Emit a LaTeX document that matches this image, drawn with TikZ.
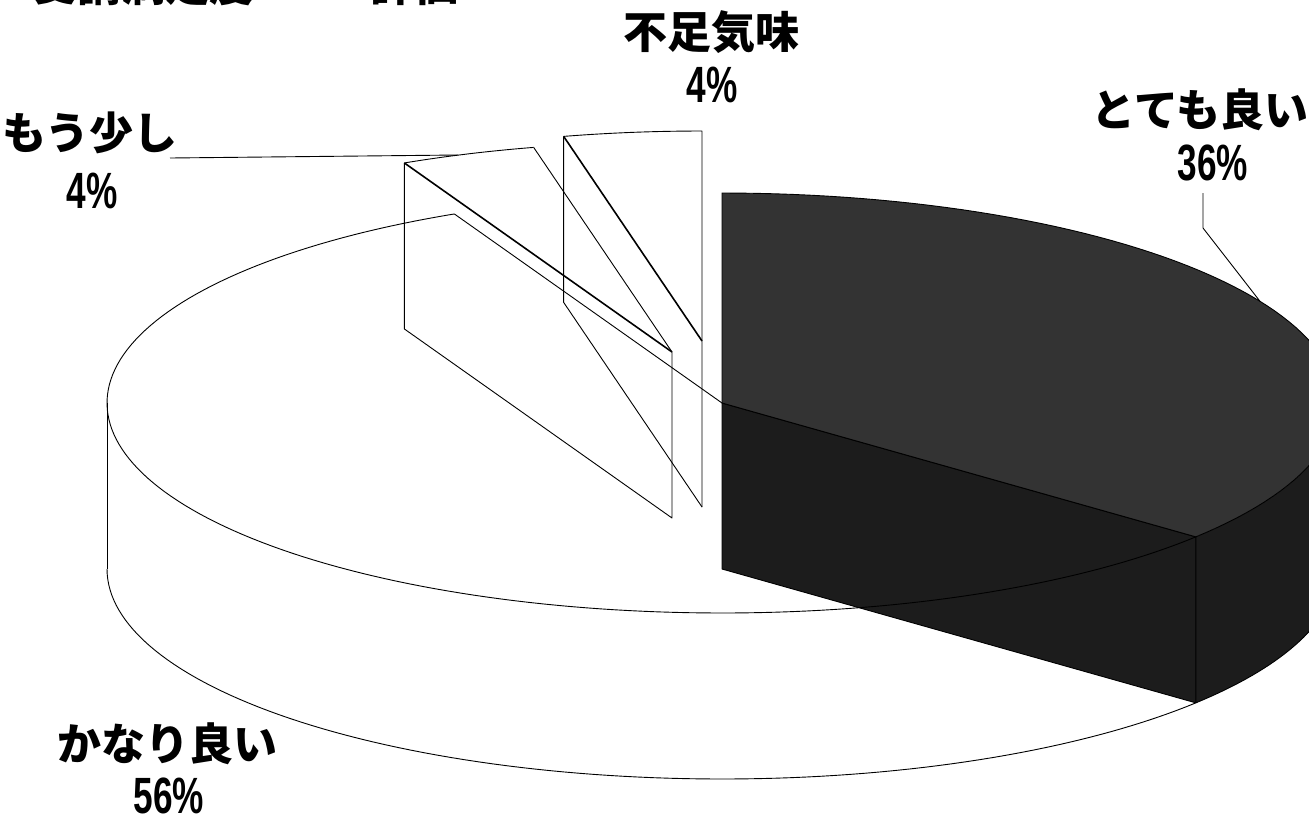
\documentclass[tikz,border=0pt]{standalone}
\usepackage{fontspec}
\usepackage{graphicx}
\newfontfamily\jpf{Noto Sans CJK JP}
\newfontfamily\numf{Liberation Sans}
\definecolor{darktop}{HTML}{333333}
\definecolor{darkside}{HTML}{1C1C1C}
\newcommand{\pctx}[1]{\scalebox{0.69}[1]{#1}}
\def\PRX{615}
\def\PRY{210}
\tikzset{
  ol/.style={draw=black, line width=0.9pt},
  jplbl/.style={font=\jpf\bfseries\fontsize{44}{50}\selectfont, inner sep=0pt},
  pclbl/.style={font=\numf\bfseries\fontsize{51}{56}\selectfont, inner sep=0pt},
}
\begin{document}
\begin{tikzpicture}[x=1pt, y=-1pt, line join=round]
\useasboundingbox (0,0) rectangle (1309,820);
\clip (0,0) rectangle (1309,820);
% ---------- key points ----------
\coordinate (C) at (722,403);
\coordinate (Cb) at (722,569);
\coordinate (Ttop) at (722,193);
\coordinate (D1) at ({722+\PRX*sin(129.6)},{403-\PRY*cos(129.6)});
\coordinate (D1b) at ({722+\PRX*sin(129.6)},{569-\PRY*cos(129.6)});
\coordinate (W2) at ({722+\PRX*sin(334.2)},{403-\PRY*cos(334.2)});
\coordinate (L) at (107,403);
\coordinate (Lb) at (107,569);
% slice A (mou sukoshi)
\coordinate (A) at (672,352);
\coordinate (Ab) at (672,518);
\coordinate (PA1) at ({672+\PRX*sin(334.2)},{352-\PRY*cos(334.2)});
\coordinate (PA1b) at ({672+\PRX*sin(334.2)},{518-\PRY*cos(334.2)});
\coordinate (PA2) at ({672+\PRX*sin(347)},{352-\PRY*cos(347)});
% slice B (fusoku gimi)
\coordinate (B) at (702,341);
\coordinate (Bb) at (702,507);
\coordinate (PB1) at ({702+\PRX*sin(347)},{341-\PRY*cos(347)});
\coordinate (PB1b) at ({702+\PRX*sin(347)},{507-\PRY*cos(347)});
\coordinate (PB2) at (702,131);
% ---------- dark slice (36%) ----------
\fill[darkside] plot[variable=\t,domain=85:129.6,samples=40] ({722+\PRX*sin(\t)},{403-\PRY*cos(\t)})
   -- plot[variable=\t,domain=129.6:85,samples=40] ({722+\PRX*sin(\t)},{569-\PRY*cos(\t)}) -- cycle;
\draw[ol] plot[variable=\t,domain=129.6:85,samples=40] ({722+\PRX*sin(\t)},{569-\PRY*cos(\t)});
\filldraw[fill=darkside, ol] (C) -- (D1) -- (D1b) -- (Cb) -- cycle;
\filldraw[fill=darktop, ol] (C) -- (Ttop) -- plot[variable=\t,domain=0:129.6,samples=80] ({722+\PRX*sin(\t)},{403-\PRY*cos(\t)}) -- cycle;
% ---------- white slice (56%) ----------
\draw[ol] (C) -- (W2);
\draw[ol] plot[variable=\t,domain=129.6:334.2,samples=150] ({722+\PRX*sin(\t)},{403-\PRY*cos(\t)});
\draw[ol] (L) -- (Lb);
\draw[ol] plot[variable=\t,domain=129.6:270,samples=100] ({722+\PRX*sin(\t)},{569-\PRY*cos(\t)});
% ---------- slice A (4%) ----------
\draw[ol] (PA2) -- (A);
\draw[ol] (PA1) -- plot[variable=\t,domain=334.2:347,samples=20] ({672+\PRX*sin(\t)},{352-\PRY*cos(\t)});
\draw[black, line width=1.6pt] (PA1) -- (A);
\draw[ol] (PA1) -- (PA1b) -- (Ab) -- (A);
% ---------- slice B (4%) ----------
\draw[ol] (PB1) -- plot[variable=\t,domain=347:360,samples=20] ({702+\PRX*sin(\t)},{341-\PRY*cos(\t)}) -- (Bb);
\draw[black, line width=1.6pt] (PB1) -- (B);
\draw[ol] (PB1) -- (PB1b) -- (Bb);
% ---------- labels ----------
\node[jplbl, anchor=base west] (title1) at (33,1) {受講満足度};
\node[jplbl, anchor=base west] (title2) at (370,1) {評価};
\node[jplbl] (l36) at (1200,110) {とても良い};
\node[pclbl] (p36) at (1213,163) {\pctx{36\%}};
\node[jplbl] (lfs) at (711,32) {不足気味};
\node[pclbl] (pfs) at (712,85) {\pctx{4\%}};
\node[jplbl] (lms) at (90,133) {もう少し};
\node[pclbl] (pms) at (92,191) {\pctx{4\%}};
\node[jplbl] (l56) at (167,744) {かなり良い};
\node[pclbl] (p56) at (169,796) {\pctx{56\%}};
% ---------- leaders ----------
\coordinate (k36a) at (1203,193);
\coordinate (k36b) at (1203,228);
\coordinate (k36c) at ({722+\PRX*sin(61)},{403-\PRY*cos(61)});
\draw[ol] (k36a) -- (k36b) -- (k36c);
\coordinate (kmsa) at (170,158);
\coordinate (kmsb) at (458,155);
\draw[ol] (kmsa) -- (kmsb);
\end{tikzpicture}
\end{document}
